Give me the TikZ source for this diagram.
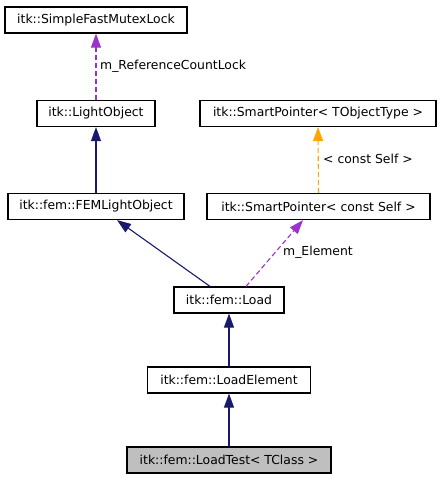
\documentclass[tikz,border=0pt]{standalone}
\usepackage{fontspec}
\setmainfont{DejaVu Sans}
\usetikzlibrary{arrows.meta,calc}
\definecolor{navyc}{HTML}{191970}
\definecolor{purplec}{HTML}{9A32CD}
\definecolor{orangec}{HTML}{FFA500}
\definecolor{grayfill}{HTML}{BFBFBF}
\tikzset{
  cls/.style={draw=black, line width=1.2pt, rectangle, inner sep=0pt, font=\fontsize{12.4pt}{14pt}\selectfont, minimum height=26pt, anchor=center},
  inh/.style={draw=navyc, line width=1.1pt, -{Triangle[length=14pt,width=10pt]}, color=navyc},
  usep/.style={draw=purplec, line width=1.1pt, dash pattern=on 5pt off 3pt, -{Triangle[length=14pt,width=10pt]}, color=purplec},
  usetmpl/.style={draw=orangec, line width=1.1pt, dash pattern=on 5pt off 3pt, -{Triangle[length=14pt,width=10pt]}, color=orangec},
  lbl/.style={font=\fontsize{12.4pt}{14pt}\selectfont, anchor=west, inner sep=0pt}
}
\begin{document}
\begin{tikzpicture}[x=1pt,y=1pt]
\useasboundingbox (0,0) rectangle (441,-480);
\node[cls, minimum width=182pt] (mutex) at (96,-20) {itk::SimpleFastMutexLock};
\node[cls, minimum width=118pt] (light) at (96,-113.5) {itk::LightObject};
\node[cls, minimum width=236pt] (spt) at (318,-113.5) {itk::SmartPointer< TObjectType >};
\node[cls, minimum width=176pt] (fem) at (96,-206.5) {itk::fem::FEMLightObject};
\node[cls, minimum width=223pt] (spc) at (318.5,-206.5) {itk::SmartPointer< const Self >};
\node[cls, minimum width=110pt] (load) at (229,-300) {itk::fem::Load};
\node[cls, minimum width=163pt] (lelem) at (229,-380) {itk::fem::LoadElement};
\node[cls, minimum width=204pt, fill=grayfill] (ltest) at (229,-460) {itk::fem::LoadTest< TClass >};

\draw[usep] (light.north) -- (mutex.south);
\node[lbl] (l1) at (100,-66) {m\_ReferenceCountLock};
\draw[inh] (fem.north) -- (light.south);
\draw[usetmpl] (spc.north) -- (spt.south);
\node[lbl] (l2) at (323,-159) {< const Self >};
\draw[inh] ($(load.north)+(-19,0)$) -- ($(fem.south)+(21,0)$);
\draw[usep] ($(load.north)+(17,0)$) -- ($(spc.south)+(-15.5,0)$);
\node[lbl] (l3) at (283,-252) {m\_Element};
\draw[inh] (lelem.north) -- (load.south);
\draw[inh] (ltest.north) -- (lelem.south);
\end{tikzpicture}
\end{document}
